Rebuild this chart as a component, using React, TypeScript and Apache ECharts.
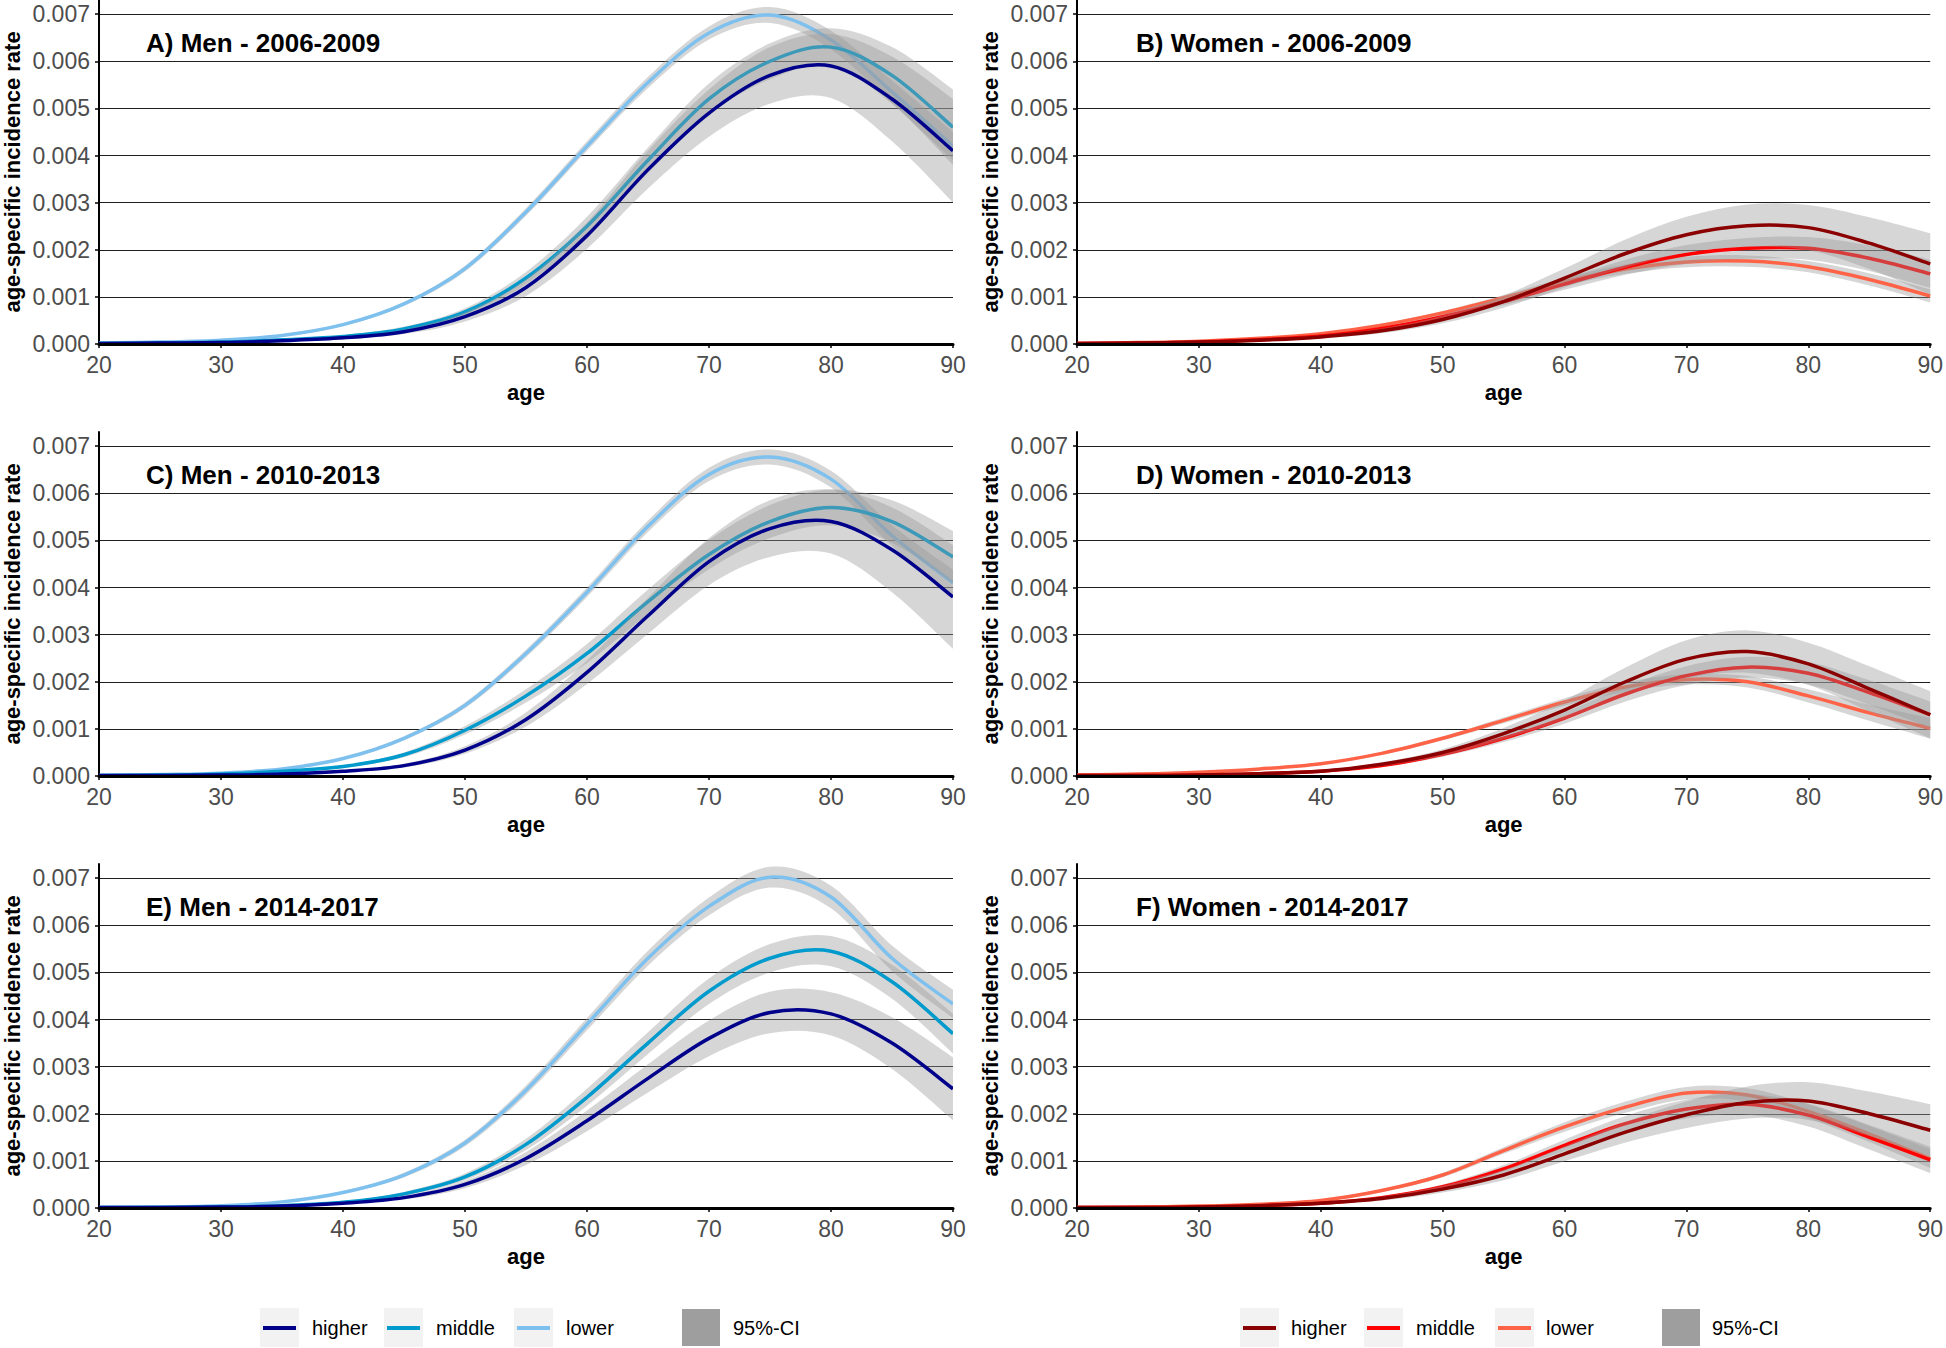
import React, { useEffect, useRef } from "react";
import * as echarts from "echarts";

// ---------- data ----------
const ages = [20, 25, 30, 35, 40, 45, 50, 55, 60, 65, 70, 75, 80, 85, 90];
const yTicks = [0, 0.001, 0.002, 0.003, 0.004, 0.005, 0.006, 0.007];
const groupNames = ["higher", "middle", "lower"];
const ciLabel = "95%-CI";
const panelTitles = [
  "A) Men - 2006-2009",
  "B) Women - 2006-2009",
  "C) Men - 2010-2013",
  "D) Women - 2010-2013",
  "E) Men - 2014-2017",
  "F) Women - 2014-2017",
];

// A) Men 2006-2009
const menA_higher = [0.00001, 0.00002, 0.00003, 0.00007, 0.00013, 0.00026, 0.00058, 0.0012, 0.0023, 0.0037, 0.0049, 0.0057, 0.0059, 0.0052, 0.0041];
const menA_middle = [0.00001, 0.00002, 0.00004, 0.00009, 0.00016, 0.00032, 0.00068, 0.0014, 0.0025, 0.0039, 0.0052, 0.006, 0.0063, 0.0057, 0.0046];
const menA_lower = [0.00002, 0.00004, 0.00008, 0.00018, 0.00041, 0.00085, 0.0016, 0.0028, 0.0042, 0.00555, 0.0066, 0.00698, 0.00645, 0.00535, 0.0042];
const menA_ciHigher = [0, 0, 0.00001, 0.00002, 0.00003, 0.00005, 0.0001, 0.00018, 0.00028, 0.0004, 0.0005, 0.0006, 0.00068, 0.0009, 0.0011];
const menA_ciMiddle = [0, 0, 0.00001, 0.00002, 0.00003, 0.00005, 0.00008, 0.00013, 0.0002, 0.00027, 0.00033, 0.00038, 0.0004, 0.0006, 0.0008];
const menA_ciLower = [0, 0, 0.00001, 0.00002, 0.00003, 0.00004, 0.00006, 0.00008, 0.0001, 0.00012, 0.00014, 0.00017, 0.0002, 0.00024, 0.0003];

// B) Women 2006-2009
const womenB_higher = [0.00001, 0.00002, 0.00004, 0.00008, 0.00015, 0.00028, 0.00052, 0.0009, 0.0014, 0.00192, 0.00232, 0.00251, 0.00247, 0.00214, 0.0017];
const womenB_middle = [0.00001, 0.00002, 0.00004, 0.00009, 0.00017, 0.00033, 0.00058, 0.0009, 0.00127, 0.00163, 0.0019, 0.00203, 0.00203, 0.00182, 0.00149];
const womenB_lower = [0.00001, 0.00003, 0.00006, 0.00012, 0.00022, 0.0004, 0.00066, 0.00098, 0.00132, 0.00159, 0.00174, 0.00176, 0.00164, 0.00137, 0.00102];
const womenB_ciHigher = [0, 0, 0.00001, 0.00002, 0.00003, 0.00005, 0.00008, 0.00013, 0.0002, 0.0003, 0.00038, 0.00045, 0.00048, 0.00055, 0.00065];
const womenB_ciMiddle = [0, 0, 0.00001, 0.00001, 0.00002, 0.00003, 0.00005, 0.00008, 0.00012, 0.00016, 0.0002, 0.00022, 0.00024, 0.00027, 0.0003];
const womenB_ciLower = [0, 0, 0.00001, 0.00001, 0.00002, 0.00003, 0.00004, 0.00006, 0.00008, 0.0001, 0.00011, 0.00012, 0.00012, 0.00013, 0.00014];

// C) Men 2010-2013
const menC_higher = [0.00001, 0.00001, 0.00002, 0.00004, 0.0001, 0.00022, 0.00055, 0.0012, 0.0022, 0.0034, 0.00455, 0.00525, 0.0054, 0.0048, 0.0038];
const menC_middle = [0.00001, 0.00002, 0.00004, 0.0001, 0.0002, 0.00045, 0.00097, 0.0017, 0.0026, 0.0037, 0.0047, 0.0054, 0.0057, 0.0054, 0.00465];
const menC_lower = [0.00001, 0.00003, 0.00006, 0.00015, 0.00037, 0.0008, 0.0015, 0.0026, 0.0039, 0.0053, 0.0064, 0.00677, 0.0063, 0.0051, 0.0041];
const menC_ciHigher = [0, 0, 0.00001, 0.00001, 0.00002, 0.00004, 0.00008, 0.00015, 0.00025, 0.00038, 0.0005, 0.0006, 0.00068, 0.0009, 0.0011];
const menC_ciMiddle = [0, 0, 0.00001, 0.00002, 0.00003, 0.00005, 0.00009, 0.00014, 0.0002, 0.00026, 0.00031, 0.00035, 0.00038, 0.00045, 0.00055];
const menC_ciLower = [0, 0, 0.00001, 0.00002, 0.00003, 0.00004, 0.00006, 0.00008, 0.0001, 0.00012, 0.00014, 0.00016, 0.00018, 0.00022, 0.00028];

// D) Women 2010-2013
const womenD_higher = [0.00001, 0.00001, 0.00002, 0.00005, 0.0001, 0.00025, 0.0005, 0.0009, 0.0014, 0.002, 0.00248, 0.00264, 0.00238, 0.00185, 0.0013];
const womenD_middle = [0.00001, 0.00001, 0.00002, 0.00005, 0.0001, 0.00022, 0.00046, 0.0008, 0.00123, 0.00174, 0.00213, 0.00231, 0.00218, 0.00177, 0.0013];
const womenD_lower = [0.00002, 0.00004, 0.00008, 0.00015, 0.00026, 0.00048, 0.0008, 0.00118, 0.00157, 0.00189, 0.00205, 0.002, 0.0017, 0.00134, 0.00101];
const womenD_ciHigher = [0, 0, 0.00001, 0.00001, 0.00002, 0.00004, 0.00007, 0.00012, 0.0002, 0.0003, 0.0004, 0.00045, 0.00045, 0.00048, 0.0005];
const womenD_ciMiddle = [0, 0, 0.00001, 0.00001, 0.00002, 0.00003, 0.00005, 0.00008, 0.00012, 0.00016, 0.0002, 0.00022, 0.00024, 0.00026, 0.00028];
const womenD_ciLower = [0, 0, 0.00001, 0.00001, 0.00002, 0.00003, 0.00004, 0.00006, 0.00008, 0.0001, 0.00011, 0.00012, 0.00014, 0.00017, 0.00022];

// E) Men 2014-2017
const menE_higher = [0.00001, 0.00001, 0.00002, 0.00004, 0.0001, 0.00022, 0.0005, 0.00105, 0.00185, 0.00275, 0.0036, 0.00415, 0.00412, 0.0035, 0.00253];
const menE_middle = [0.00001, 0.00001, 0.00002, 0.00005, 0.00012, 0.0003, 0.00066, 0.00135, 0.00235, 0.0035, 0.0046, 0.0053, 0.00545, 0.0048, 0.0037];
const menE_lower = [0.00001, 0.00002, 0.00005, 0.00013, 0.00033, 0.0007, 0.00138, 0.0025, 0.0039, 0.0053, 0.0064, 0.00702, 0.0066, 0.0053, 0.00433];
const menE_ciHigher = [0, 0, 0.00001, 0.00001, 0.00002, 0.00004, 0.00008, 0.00014, 0.00022, 0.0003, 0.00038, 0.00044, 0.00046, 0.00055, 0.00067];
const menE_ciMiddle = [0, 0, 0.00001, 0.00001, 0.00002, 0.00004, 0.00007, 0.00012, 0.00018, 0.00023, 0.00027, 0.0003, 0.00032, 0.00036, 0.00042];
const menE_ciLower = [0, 0, 0.00001, 0.00002, 0.00003, 0.00005, 0.00007, 0.0001, 0.00013, 0.00016, 0.00019, 0.00022, 0.00024, 0.00027, 0.0003];

// F) Women 2014-2017
const womenF_higher = [0.00001, 0.00001, 0.00002, 0.00005, 0.0001, 0.0002, 0.0004, 0.0007, 0.00115, 0.00161, 0.00198, 0.00224, 0.00227, 0.002, 0.00165];
const womenF_middle = [0.00001, 0.00001, 0.00002, 0.00005, 0.0001, 0.00022, 0.00045, 0.00083, 0.00133, 0.00179, 0.0021, 0.0022, 0.00197, 0.0015, 0.00102];
const womenF_lower = [0.00001, 0.00002, 0.00004, 0.00008, 0.00016, 0.00037, 0.0007, 0.00122, 0.00172, 0.00214, 0.00244, 0.0024, 0.00205, 0.00157, 0.00105];
const womenF_ciHigher = [0, 0, 0.00001, 0.00001, 0.00002, 0.00004, 0.00007, 0.00011, 0.00016, 0.00022, 0.00028, 0.00034, 0.0004, 0.00047, 0.00055];
const womenF_ciMiddle = [0, 0, 0.00001, 0.00001, 0.00002, 0.00003, 0.00005, 0.00008, 0.00012, 0.00016, 0.0002, 0.00022, 0.00024, 0.00026, 0.00028];
const womenF_ciLower = [0, 0, 0.00001, 0.00001, 0.00002, 0.00003, 0.00005, 0.00007, 0.0001, 0.00012, 0.00013, 0.00014, 0.00015, 0.00017, 0.0002];

const menColors = ["#00008B", "#009ACD", "#7EC0EE"];
const womenColors = ["#8B0000", "#FF0000", "#FF6347"];

// ---------- layout ----------
const W = 1946;
const H = 1348;
const FONT = '"Liberation Sans", Arial, Helvetica, sans-serif';
const colLeft = [98, 1077];
const colWidth = [855, 856];
const rowTop = [0, 432, 864];
const plotH = 344;

const panels = [
  { v: [menA_higher, menA_middle, menA_lower], ci: [menA_ciHigher, menA_ciMiddle, menA_ciLower], colors: menColors },
  { v: [womenB_higher, womenB_middle, womenB_lower], ci: [womenB_ciHigher, womenB_ciMiddle, womenB_ciLower], colors: womenColors },
  { v: [menC_higher, menC_middle, menC_lower], ci: [menC_ciHigher, menC_ciMiddle, menC_ciLower], colors: menColors },
  { v: [womenD_higher, womenD_middle, womenD_lower], ci: [womenD_ciHigher, womenD_ciMiddle, womenD_ciLower], colors: womenColors },
  { v: [menE_higher, menE_middle, menE_lower], ci: [menE_ciHigher, menE_ciMiddle, menE_ciLower], colors: menColors },
  { v: [womenF_higher, womenF_middle, womenF_lower], ci: [womenF_ciHigher, womenF_ciMiddle, womenF_ciLower], colors: womenColors },
];

// Catmull-Rom spline through pixel points -> cubic Bezier path commands
function splineCmds(pts: number[][]): string {
  let d = "";
  for (let i = 0; i < pts.length - 1; i++) {
    const p0 = pts[i - 1] || pts[i];
    const p1 = pts[i];
    const p2 = pts[i + 1];
    const p3 = pts[i + 2] || pts[i + 1];
    const c1x = p1[0] + (p2[0] - p0[0]) / 6;
    const c1y = p1[1] + (p2[1] - p0[1]) / 6;
    const c2x = p2[0] - (p3[0] - p1[0]) / 6;
    const c2y = p2[1] - (p3[1] - p1[1]) / 6;
    d += ` C${c1x.toFixed(2)},${c1y.toFixed(2)} ${c2x.toFixed(2)},${c2y.toFixed(2)} ${p2[0].toFixed(2)},${p2[1].toFixed(2)}`;
  }
  return d;
}

function buildOption() {
  const grid: any[] = [];
  const xAxis: any[] = [];
  const yAxis: any[] = [];
  const series: any[] = [];
  const graphic: any[] = [];
  let z = 3;

  panels.forEach((p, gi) => {
    const col = gi % 2;
    const row = Math.floor(gi / 2);
    const left = colLeft[col];
    const top = rowTop[row];
    grid.push({ left, top, width: colWidth[col], height: plotH, containLabel: false });
    xAxis.push({
      type: "value",
      gridIndex: gi,
      min: 20,
      max: 90,
      interval: 10,
      name: "age",
      nameLocation: "middle",
      nameGap: 37,
      nameTextStyle: { fontFamily: FONT, fontSize: 22, fontWeight: "bold", color: "#000" },
      axisLine: { show: true, onZero: false, lineStyle: { color: "#000", width: 3 } },
      axisTick: { show: true, length: 4, lineStyle: { color: "#000", width: 1.5 } },
      axisLabel: { color: "#4D4D4D", fontFamily: FONT, fontSize: 23, margin: 9 },
      splitLine: { show: false },
      z: 50,
    });
    yAxis.push({
      type: "value",
      gridIndex: gi,
      min: 0,
      max: 0.0073,
      interval: 0.001,
      name: "age-specific incidence rate",
      nameLocation: "middle",
      nameRotate: 90,
      nameGap: 76,
      nameTextStyle: { fontFamily: FONT, fontSize: 22, fontWeight: "bold", color: "#000" },
      axisLine: { show: true, lineStyle: { color: "#000", width: 2 } },
      axisTick: { show: true, length: 4, customValues: yTicks, lineStyle: { color: "#000", width: 1.5 } },
      axisLabel: {
        color: "#4D4D4D",
        fontFamily: FONT,
        fontSize: 23,
        margin: 9,
        customValues: yTicks,
        formatter: (v: number) => v.toFixed(3),
      },
      splitLine: { show: true, showMinLine: false, lineStyle: { color: "#1f1f1f", width: 1.2 } },
    });

    // drawing order: lower, middle, higher; each ribbon before its line
    [2, 1, 0].forEach((k) => {
      const vals = p.v[k];
      const ci = p.ci[k];
      const lo = vals.map((v, i) => Math.max(0, v - ci[i]));
      const hi = vals.map((v, i) => v + ci[i]);
      series.push({
        type: "custom",
        name: ciLabel,
        xAxisIndex: gi,
        yAxisIndex: gi,
        clip: true,
        silent: true,
        data: ages.map((a, i) => [a, lo[i], hi[i]]),
        encode: { x: 0, y: [1, 2] },
        z: z++,
        renderItem: (params: any, api: any) => {
          if (params.dataIndex !== 0) return null;
          const up = ages.map((a, i) => api.coord([a, hi[i]]));
          const dn = ages.map((a, i) => api.coord([a, lo[i]])).reverse();
          const d =
            `M${up[0][0]},${up[0][1]}` +
            splineCmds(up) +
            ` L${dn[0][0]},${dn[0][1]}` +
            splineCmds(dn) +
            " Z";
          return {
            type: "path",
            shape: { pathData: d },
            style: { fill: "rgba(153,153,153,0.4)", stroke: "none" },
          };
        },
      });
      series.push({
        type: "custom",
        name: groupNames[k],
        xAxisIndex: gi,
        yAxisIndex: gi,
        clip: true,
        data: ages.map((a, i) => [a, vals[i]]),
        encode: { x: 0, y: 1 },
        z: z++,
        renderItem: (params: any, api: any) => {
          if (params.dataIndex !== 0) return null;
          const pts = ages.map((a, i) => api.coord([a, vals[i]]));
          const d = `M${pts[0][0]},${pts[0][1]}` + splineCmds(pts);
          return {
            type: "path",
            shape: { pathData: d },
            style: { fill: "none", stroke: p.colors[k], lineWidth: 3.5, lineJoin: "round" },
          };
        },
      });
    });

    graphic.push({
      type: "text",
      x: left + (col === 0 ? 48 : 59),
      y: top + 43,
      z: 200,
      style: {
        text: panelTitles[gi],
        fill: "#000",
        fontFamily: FONT,
        fontSize: 26,
        fontWeight: "bold",
        textAlign: "left",
        textVerticalAlign: "middle",
        align: "left",
        verticalAlign: "middle",
      },
    });
  });

  // legends
  const legendY = 1328;
  const legends = [
    { colors: menColors, keys: [260, 384, 514], texts: [312, 436, 566], ciKey: 682, ciText: 733 },
    { colors: womenColors, keys: [1240, 1364, 1495], texts: [1291, 1416, 1546], ciKey: 1662, ciText: 1712 },
  ];
  legends.forEach((lg) => {
    lg.keys.forEach((kx, k) => {
      graphic.push({ type: "rect", x: kx, y: legendY - 20, shape: { width: 39, height: 39 }, style: { fill: "#F2F2F2" }, z: 200 });
      graphic.push({
        type: "line",
        shape: { x1: kx + 3, y1: legendY, x2: kx + 36, y2: legendY },
        style: { stroke: lg.colors[k], lineWidth: 4 },
        z: 201,
      });
      graphic.push({
        type: "text",
        x: lg.texts[k],
        y: legendY,
        z: 201,
        style: {
          text: groupNames[k],
          fill: "#000",
          fontFamily: FONT,
          fontSize: 20,
          textAlign: "left",
          textVerticalAlign: "middle",
          align: "left",
          verticalAlign: "middle",
        },
      });
    });
    graphic.push({ type: "rect", x: lg.ciKey, y: legendY - 19, shape: { width: 38, height: 37 }, style: { fill: "#9E9E9E" }, z: 200 });
    graphic.push({
      type: "text",
      x: lg.ciText,
      y: legendY,
      z: 201,
      style: {
        text: ciLabel,
        fill: "#000",
        fontFamily: FONT,
        fontSize: 20,
        textAlign: "left",
        textVerticalAlign: "middle",
        align: "left",
        verticalAlign: "middle",
      },
    });
  });

  return {
    animation: false,
    backgroundColor: "#FFFFFF",
    textStyle: { fontFamily: FONT },
    grid,
    xAxis,
    yAxis,
    series,
    graphic,
  };
}

export default function App() {
  const ref = useRef<HTMLDivElement>(null);
  useEffect(() => {
    if (!ref.current) return;
    const chart = echarts.init(ref.current, undefined, { renderer: "svg", width: W, height: H });
    chart.setOption(buildOption() as any);
    return () => chart.dispose();
  }, []);
  return <div ref={ref} style={{ position: "fixed", left: 0, top: 0, width: W, height: H, background: "#fff" }} />;
}
